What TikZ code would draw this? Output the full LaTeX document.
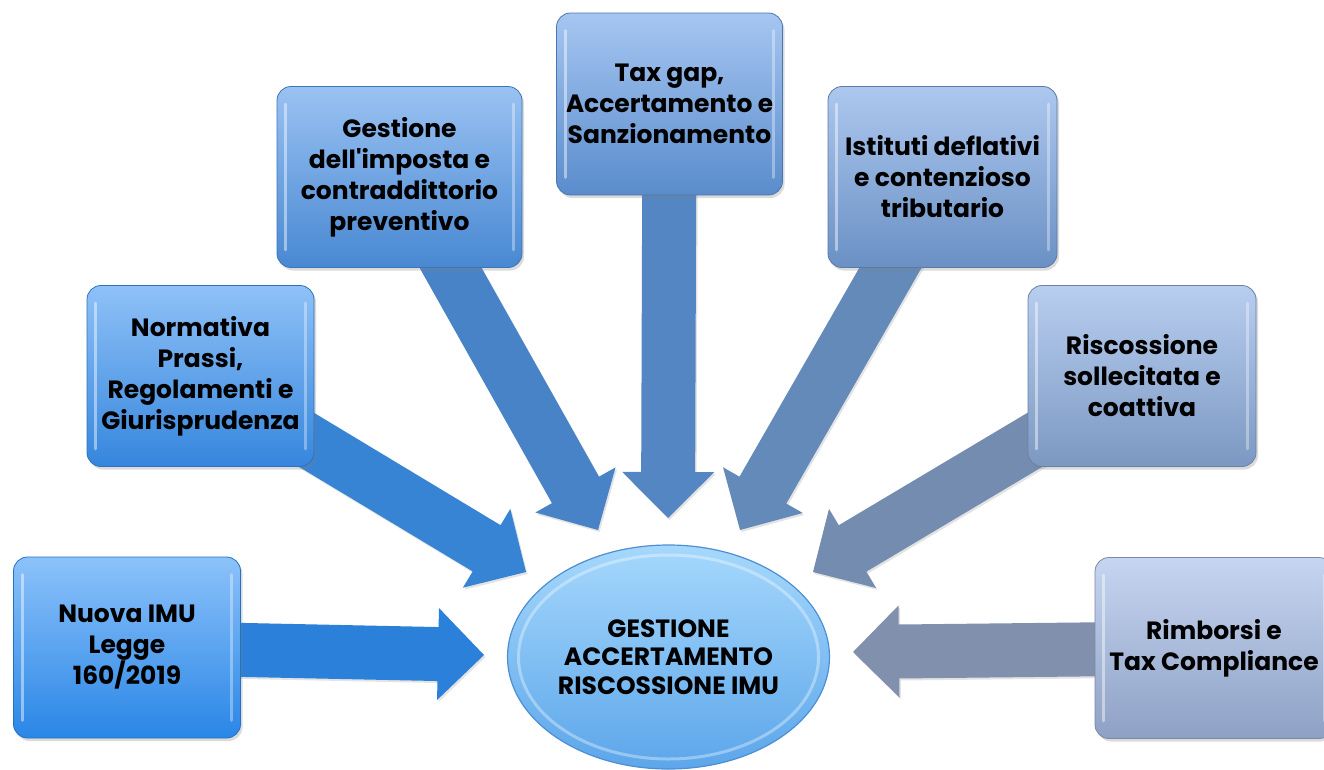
\documentclass[tikz,border=0pt]{standalone}
\usepackage{fontspec}
\setmainfont{Poppins}
\usetikzlibrary{calc,shapes.geometric,shadows}
\pgfdeclarelayer{bg}
\pgfsetlayers{bg,main}

\definecolor{a1}{HTML}{2B80D9}
\definecolor{a2}{HTML}{3784D5}
\definecolor{a3}{HTML}{4883C8}
\definecolor{a4}{HTML}{5486C3}
\definecolor{a5}{HTML}{648AB9}
\definecolor{a6}{HTML}{738CB0}
\definecolor{a7}{HTML}{8190AC}

\definecolor{b1t}{HTML}{8CC2FA}\definecolor{b1b}{HTML}{2A86E6}
\definecolor{b2t}{HTML}{8FC1F7}\definecolor{b2b}{HTML}{3586DD}
\definecolor{b3t}{HTML}{9AC2F2}\definecolor{b3b}{HTML}{4888D2}
\definecolor{b4t}{HTML}{A6C6F1}\definecolor{b4b}{HTML}{5A8CCC}
\definecolor{b5t}{HTML}{ADC8EF}\definecolor{b5b}{HTML}{6A90C4}
\definecolor{b6t}{HTML}{B8CEF0}\definecolor{b6b}{HTML}{7C98C2}
\definecolor{b7t}{HTML}{C6D5F0}\definecolor{b7b}{HTML}{8EA1C5}

\definecolor{ellT}{HTML}{A6D8FC}
\definecolor{ellB}{HTML}{5CA6EA}
\definecolor{ellD}{HTML}{4D8FD2}

\newcommand{\boxfont}{\fontsize{25}{31}\selectfont\bfseries}
\newcommand{\ellfont}{\fontsize{25}{28.5}\selectfont\bfseries}

\tikzset{
  tbox/.style 2 args={draw=#2!85!black, line width=0.8pt, rounded corners=14pt,
    top color=#1, bottom color=#2, minimum height=181pt, align=center,
    font=\boxfont, text=black, inner sep=2pt,
    drop shadow={opacity=0.28, shadow xshift=2pt, shadow yshift=-3pt}},
  ellnode/.style={ellipse, draw=ellD, line width=1.2pt, top color=ellT,
    bottom color=ellB, minimum width=322pt, minimum height=224pt,
    inner sep=0pt, align=center, font=\ellfont, text=black},
  arrshadow/.style={drop shadow={opacity=0.22, shadow xshift=1.5pt, shadow yshift=-2pt}},
  hl/.style={white, line width=3pt, line cap=round}
}

% block arrow from node #2 (centre) to tip coordinate #3, colour #1
\newcommand{\blockarr}[3]{%
  \path ($(#3)!46pt!(#2)$) coordinate (hb);
  \fill[#1, arrshadow] ($(#2)!27pt!90:(#3)$) -- ($(hb)!27pt!90:(#3)$)
    -- ($(hb)!46pt!90:(#3)$) -- (#3) -- ($(hb)!46pt!-90:(#3)$)
    -- ($(hb)!27pt!-90:(#3)$) -- ($(#2)!27pt!-90:(#3)$) -- cycle;}

\newcommand{\hilite}[1]{%
  \draw[hl, opacity=.45] ([xshift=9pt,yshift=-18pt]#1.north west) -- ([xshift=9pt,yshift=18pt]#1.south west);
  \draw[hl, opacity=.35] ([xshift=-9pt,yshift=-18pt]#1.north east) -- ([xshift=-9pt,yshift=18pt]#1.south east);}

\begin{document}
\begin{tikzpicture}[x=1pt,y=-1pt]
\useasboundingbox (0,0) rectangle (1324,769);
\clip (0,0) rectangle (1324,769);

% boxes
\node[tbox={b1t}{b1b}, minimum width=227pt] (n1) at (127,647.5) {Nuova IMU\\Legge\\160/2019};
\node[tbox={b2t}{b2b}, minimum width=227pt] (n2) at (200.5,376) {Normativa\\Prassi,\\Regolamenti e\\Giurisprudenza};
\node[tbox={b3t}{b3b}, minimum width=245pt] (n3) at (399.5,177) {Gestione\\dell\textquotesingle imposta e\\contraddittorio\\preventivo};
\node[tbox={b4t}{b4b}, minimum width=226pt, minimum height=182pt] (n4) at (669.5,104) {Tax gap,\\Accertamento e\\Sanzionamento};
\node[tbox={b5t}{b5b}, minimum width=229pt] (n5) at (942.5,177) {Istituti deflativi\\e contenzioso\\tributario};
\node[tbox={b6t}{b6b}, minimum width=228pt] (n6) at (1142,376) {Riscossione\\sollecitata e\\coattiva};
\node[tbox={b7t}{b7b}, minimum width=238pt] (n7) at (1214,648) {Rimborsi e\\Tax Compliance};

% centre
\node[ellnode] (c) at (668.5,657) {GESTIONE\\ACCERTAMENTO\\RISCOSSIONE IMU};
\draw[white, opacity=.35, line width=3pt] (c.center) ellipse (150pt and 102pt);

\foreach \n in {n1,n2,n3,n4,n5,n6,n7} {\hilite{\n}}

% arrow tips (free ends)
\coordinate (t1) at (484,655);
\coordinate (t2) at (526,572);
\coordinate (t3) at (598,530);
\coordinate (t4) at (668,518);
\coordinate (t5) at (740,530);
\coordinate (t6) at (813,572);
\coordinate (t7) at (853,652);

\begin{pgfonlayer}{bg}
\fill[white] (0,0) rectangle (1324,769);
\blockarr{a1}{n1}{t1}
\blockarr{a2}{n2}{t2}
\blockarr{a3}{n3}{t3}
\blockarr{a4}{n4}{t4}
\blockarr{a5}{n5}{t5}
\blockarr{a6}{n6}{t6}
\blockarr{a7}{n7}{t7}
\end{pgfonlayer}
\end{tikzpicture}
\end{document}
